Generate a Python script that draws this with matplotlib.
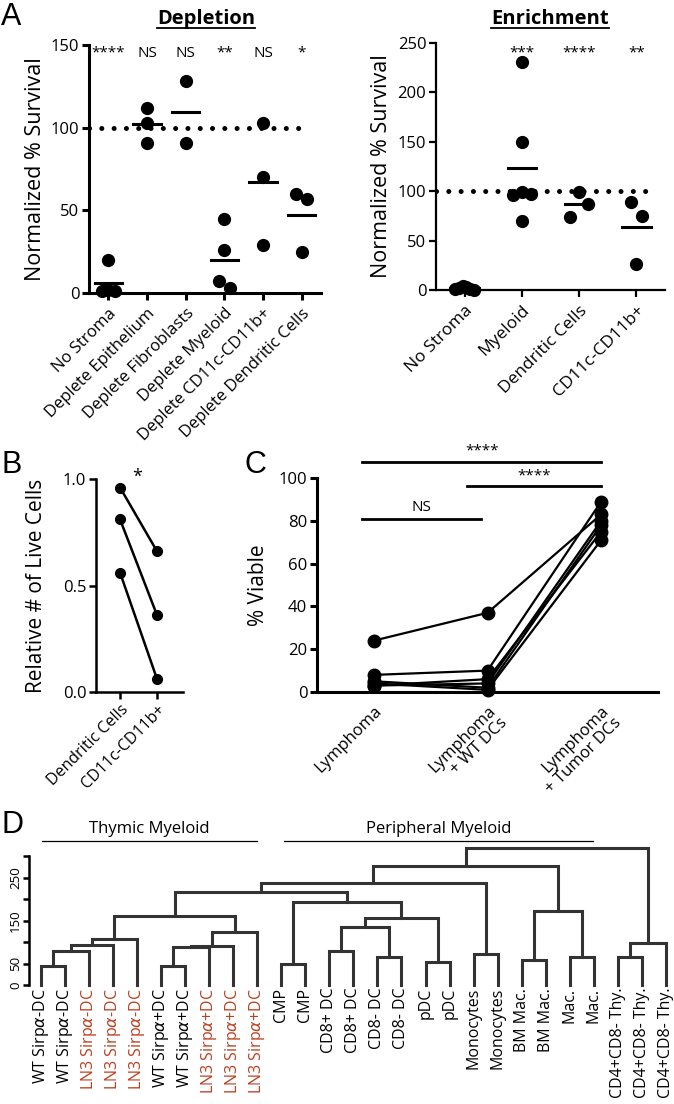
import matplotlib
matplotlib.use("Agg")
import matplotlib.pyplot as plt
import numpy as np
from matplotlib.lines import Line2D

plt.rcParams['font.family'] = ['Open Sans', 'DejaVu Sans']

# ---- Panel A: depletion / enrichment (normalized % survival)
dep_groups = ['No Stroma', 'Deplete Epithelium', 'Deplete Fibroblasts',
              'Deplete Myeloid', 'Deplete CD11c-CD11b+', 'Deplete Dendritic Cells']
dep_values = [[20, 2, 1, 1], [112, 91, 103], [128, 91],
              [45, 26, 7, 3], [103, 70, 29], [60, 57, 25]]
dep_sig = ['****', 'NS', 'NS', '**', 'NS', '*']

enr_groups = ['No Stroma', 'Myeloid', 'Dendritic Cells', 'CD11c-CD11b+']
enr_values = [[2, 1, 0.5, 1, 4, 3], [231, 150, 97, 96, 99, 70],
              [99, 87, 74], [89, 75, 26]]
enr_sig = ['', '***', '****', '**']

# ---- Panel B: relative # of live cells (paired)
b_groups = ['Dendritic Cells', 'CD11c-CD11b+']
b_dc = [0.96, 0.81, 0.56]
b_cd11 = [0.66, 0.36, 0.06]

# ---- Panel C: % viable (paired replicates)
c_groups = ['Lymphoma', 'Lymphoma\n+ WT DCs', 'Lymphoma\n+ Tumor DCs']
c_lymphoma = [24, 8, 5, 3, 4, 3]
c_wt_dc = [37, 10, 2, 6, 1, 4]
c_tumor_dc = [83, 89, 78, 75, 71, 80]

# ---- Panel D: dendrogram
leaf_labels = ['WT Sirp$\\alpha$-DC', 'WT Sirp$\\alpha$-DC', 'LN3 Sirp$\\alpha$-DC',
               'LN3 Sirp$\\alpha$-DC', 'LN3 Sirp$\\alpha$-DC',
               'WT Sirp$\\alpha$+DC', 'WT Sirp$\\alpha$+DC', 'LN3 Sirp$\\alpha$+DC',
               'LN3 Sirp$\\alpha$+DC', 'LN3 Sirp$\\alpha$+DC',
               'CMP', 'CMP', 'CD8+ DC', 'CD8+ DC', 'CD8- DC', 'CD8- DC', 'pDC', 'pDC',
               'Monocytes', 'Monocytes', 'BM Mac.', 'BM Mac.', 'Mac.', 'Mac.',
               'CD4+CD8- Thy.', 'CD4+CD8- Thy.', 'CD4+CD8- Thy.']
# (cluster a, cluster b, height); new cluster ids start after the leaves
merges = [(0, 1, 44), (27, 2, 80), (28, 3, 92), (29, 4, 107),
          (5, 6, 44), (31, 7, 89), (32, 8, 91), (33, 9, 123), (30, 34, 161),
          (10, 11, 49), (12, 13, 78), (14, 15, 64), (37, 38, 136), (16, 17, 54),
          (39, 40, 156), (36, 41, 192), (35, 42, 217), (18, 19, 71), (43, 44, 237),
          (20, 21, 58), (22, 23, 66), (46, 47, 173), (45, 48, 276),
          (24, 25, 66), (50, 26, 97), (49, 51, 319)]

RED = '#bb4020'
W, H = 674, 1104


def rect(x0, y0, x1, y1):
    # pixel box (top-left origin) -> figure fraction
    return [x0 / W, 1 - y1 / H, (x1 - x0) / W, (y1 - y0) / H]


def swarm(vals, tol, step, width):
    vals = np.asarray(vals, float)
    order = np.argsort(-vals, kind='stable')
    offs = np.zeros(len(vals))
    clusters = [[order[0]]]
    for i in order[1:]:
        if vals[clusters[-1][-1]] - vals[i] <= tol:
            clusters[-1].append(i)
        else:
            clusters.append([i])
    for c in clusters:
        n = len(c)
        if n == 1:
            continue
        s = min(step, width / (n - 1))
        if n % 2:
            pattern = [0] + [v for k in range(1, n // 2 + 1) for v in (k, -k)]
        else:
            pattern = [v for k in range(n // 2) for v in (-(k + 0.5), k + 0.5)]
        for k, i in enumerate(c):
            offs[i] = pattern[k] * s
    return offs


def style(ax, lw=2.0):
    for s in ('top', 'right'):
        ax.spines[s].set_visible(False)
    for s in ('left', 'bottom'):
        ax.spines[s].set_linewidth(lw)
    ax.tick_params(width=lw, length=5, labelsize=12, pad=2)


fig = plt.figure(figsize=(W / 100, H / 100), dpi=100)

# ---------- A left
ax = fig.add_axes(rect(89, 45, 321, 293))
style(ax, 2.2)
for i, vals in enumerate(dep_values):
    xs = i + swarm(vals, 6, 0.3, 0.35)
    ax.plot(xs, vals, 'o', color='black', ms=8.5, clip_on=False, zorder=4)
    ax.plot([i - 0.35, i + 0.35], [np.mean(vals)] * 2, color='black', lw=2.2, zorder=3)
    ax.text(i, 145, dep_sig[i], ha='center', va='center', fontsize=11)
ax.plot([-0.5, 5.15], [100, 100], color='black', lw=3.6,
        linestyle=(0, (0.01, 2.45)), dash_capstyle='round', zorder=2)
ax.set_xlim(-0.5, 5.5)
ax.set_ylim(0, 150)
ax.set_yticks([0, 50, 100, 150])
ax.set_xticks(range(len(dep_groups)))
ax.set_xticklabels(dep_groups, rotation=45, ha='right', va='top',
                   rotation_mode='anchor', fontsize=12)
ax.tick_params(axis='x', pad=4)
ax.set_ylabel('Normalized % Survival', fontsize=15.5)
ax.yaxis.set_label_coords(-0.185, 0.5)

# ---------- A right
ax = fig.add_axes(rect(436, 43, 665, 290))
style(ax, 1.6)
for i, vals in enumerate(enr_values):
    xs = i + swarm(vals, 14, 0.2, 0.32)
    ax.plot(xs, vals, 'o', color='black', ms=8.5, clip_on=False, zorder=4)
    ax.plot([i - 0.25, i + 0.25], [np.mean(vals)] * 2, color='black', lw=2.2, zorder=3)
    if enr_sig[i]:
        ax.text(i, 240, enr_sig[i], ha='center', va='center', fontsize=11)
ax.plot([-0.5, 3.27], [100, 100], color='black', lw=3.6,
        linestyle=(0, (0.01, 2.45)), dash_capstyle='round', zorder=2)
ax.set_xlim(-0.5, 3.5)
ax.set_ylim(0, 250)
ax.set_yticks([0, 50, 100, 150, 200, 250])
ax.set_xticks(range(len(enr_groups)))
ax.set_xticklabels(enr_groups, rotation=45, ha='right', va='top',
                   rotation_mode='anchor', fontsize=12.5)
ax.tick_params(axis='x', pad=4)
ax.set_ylabel('Normalized % Survival', fontsize=15.5)
ax.yaxis.set_label_coords(-0.192, 0.5)

# ---------- B
ax = fig.add_axes(rect(96, 479, 183, 692))
style(ax, 1.8)
for a, b in zip(b_dc, b_cd11):
    ax.plot([0, 1], [a, b], '-o', color='black', lw=1.8, ms=7, clip_on=False)
ax.text(0.45, 1.01, '*', ha='center', va='center', fontsize=13)
ax.set_xlim(-0.65, 1.7)
ax.set_ylim(0, 1.0)
ax.set_yticks([0.0, 0.5, 1.0])
ax.set_yticklabels(['0.0', '0.5', '1.0'])
ax.set_xticks([0, 1])
ax.set_xticklabels(b_groups, rotation=45, ha='right', va='top',
                   rotation_mode='anchor', fontsize=11.5)
ax.set_ylabel('Relative # of Live Cells', fontsize=15)
ax.yaxis.set_label_coords(-0.56, 0.5)

# ---------- C
ax = fig.add_axes(rect(317, 478, 658, 692))
style(ax, 2.2)
for row in zip(c_lymphoma, c_wt_dc, c_tumor_dc):
    ax.plot([0, 1, 2], row, '-o', color='black', lw=1.6, ms=9, clip_on=False)
ax.set_xlim(-0.5, 2.5)
ax.set_ylim(0, 100)
ax.set_yticks(range(0, 101, 20))
ax.set_xticks([0, 1, 2])
ax.tick_params(axis='x', length=0, pad=8)
ax.set_xticklabels(c_groups, rotation=45, ha='right', va='top',
                   rotation_mode='anchor', fontsize=12, linespacing=1.1)
ax.set_ylabel('% Viable', fontsize=15)
ax.yaxis.set_label_coords(-0.14, 0.5)
for x0, x1, y, lab, ty in [(-0.1, 2.0, 107.4, '****', 112.5),
                           (0.82, 2.0, 96.3, '****', 101),
                           (-0.1, 0.94, 81, 'NS', 86)]:
    ax.plot([x0, x1], [y, y], color='black', lw=2, clip_on=False)
    ax.text((x0 + x1) / 2, ty, lab, ha='center', va='center', fontsize=11)

# ---------- D
ax = fig.add_axes(rect(29, 856, 678, 985))
n = len(leaf_labels)
pos = {i: float(i) for i in range(n)}
hgt = {i: 0.0 for i in range(n)}
for k, (a, b, h) in enumerate(merges):
    ax.plot([pos[a], pos[a], pos[b], pos[b]], [hgt[a], h, h, hgt[b]],
            color='#333333', lw=2.2, clip_on=False, solid_joinstyle='miter')
    pos[n + k] = (pos[a] + pos[b]) / 2
    hgt[n + k] = h
ax.set_xlim(-0.49, 26.5)
ax.set_ylim(0, 300)
for s in ('top', 'right', 'bottom'):
    ax.spines[s].set_visible(False)
ax.spines['left'].set_linewidth(1.8)
ax.set_yticks(range(0, 301, 50))
ax.set_yticklabels(['0', '50', '', '150', '', '250', ''], rotation=90, va='center')
ax.tick_params(axis='y', width=1.8, length=4, labelsize=9.5, pad=1)
ax.set_xticks(range(n))
ax.set_xticklabels(leaf_labels, rotation=90, ha='center', va='top', fontsize=11.5)
ax.tick_params(axis='x', length=0, pad=2)
for t in ax.get_xticklabels():
    if t.get_text().startswith('LN3'):
        t.set_color(RED)
for x0, x1, lab in [(0.05, 9.0, 'Thymic Myeloid'), (10.1, 22.97, 'Peripheral Myeloid')]:
    ax.plot([x0, x1], [336, 336], color='black', lw=0.9, clip_on=False)
    ax.text((x0 + x1) / 2, 345, lab, ha='center', va='bottom', fontsize=12)

# ---------- panel letters and titles
for lab, x, y in [('A', 1, 2), ('B', 1, 450), ('C', 245, 450), ('D', 1, 810)]:
    fig.text(x / W, 1 - y / H, lab, fontsize=22, family='Liberation Sans', va='top')

titles = []
for lab, xc in [('Depletion', 206), ('Enrichment', 550)]:
    titles.append(fig.text(xc / W, 1 - 24 / H, lab, ha='center', va='baseline',
                           fontsize=14.5, fontweight='bold'))
fig.canvas.draw()
for t in titles:
    bb = t.get_window_extent()
    yline = 1 - 27.5 / H
    fig.add_artist(Line2D([bb.x0 / W, bb.x1 / W], [yline, yline],
                          transform=fig.transFigure, color='black', lw=1.3))

fig.savefig('out.png', dpi=100)
